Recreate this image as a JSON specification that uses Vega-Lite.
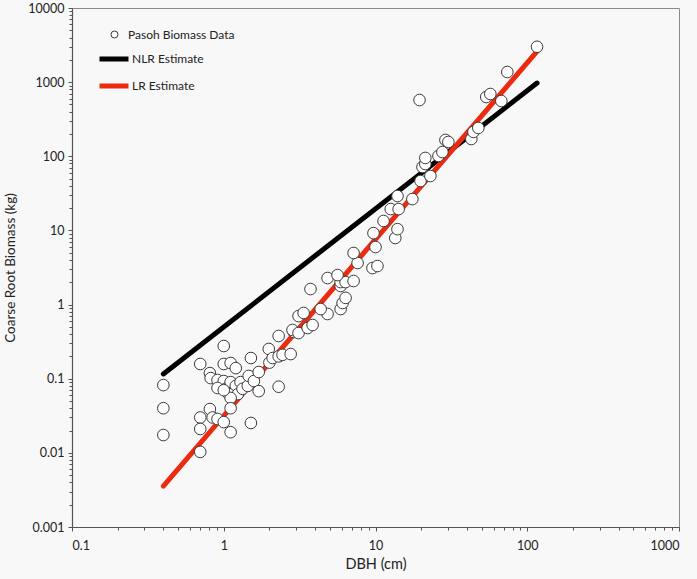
{
  "$schema": "https://vega.github.io/schema/vega-lite/v6.json",
  "width": 607,
  "height": 519,
  "autosize": "none",
  "padding": {"left": 72, "top": 8, "right": 18, "bottom": 52},
  "background": "#f8f8f8",
  "config": {
    "font": "Lato",
    "view": {"stroke": "#8a8a8a", "strokeWidth": 1, "fill": "#f8f8f8"},
    "axis": {
      "labelFont": "Lato", "labelFontSize": 12.5, "labelColor": "#222",
      "titleFont": "Lato", "titleFontSize": 14, "titleFontWeight": "normal", "titleColor": "#222",
      "domainColor": "#555", "domainWidth": 1.2, "tickColor": "#555", "tickWidth": 1,
      "grid": false, "labelOverlap": false
    },
    "legend": {"labelFont": "Lato", "labelFontSize": 12, "labelColor": "#222", "padding": 0}
  },
  "resolve": {"scale": {"stroke": "independent"}, "legend": {"stroke": "independent"}},
  "datasets": {
    "pts": [
      {"dbh":0.4,"biomass":0.082},{"dbh":0.4,"biomass":0.040},{"dbh":0.4,"biomass":0.0174},
      {"dbh":0.70,"biomass":0.158},{"dbh":0.81,"biomass":0.119},{"dbh":0.82,"biomass":0.102},{"dbh":1.0,"biomass":0.276},{"dbh":1.0,"biomass":0.158},{"dbh":1.11,"biomass":0.163},{"dbh":1.2,"biomass":0.139},
      {"dbh":0.91,"biomass":0.096},{"dbh":1.0,"biomass":0.093},{"dbh":0.91,"biomass":0.075},{"dbh":1.03,"biomass":0.073},{"dbh":1.11,"biomass":0.090},{"dbh":1.2,"biomass":0.080},{"dbh":1.29,"biomass":0.090},{"dbh":1.08,"biomass":0.062},{"dbh":1.24,"biomass":0.062},{"dbh":1.33,"biomass":0.073},{"dbh":1.44,"biomass":0.080},{"dbh":1.51,"biomass":0.190},{"dbh":1.46,"biomass":0.109},{"dbh":1.58,"biomass":0.093},{"dbh":1.70,"biomass":0.123},{"dbh":1.70,"biomass":0.068},
      {"dbh":1.11,"biomass":0.055},{"dbh":1.0,"biomass":0.070},
      {"dbh":1.11,"biomass":0.040},{"dbh":0.70,"biomass":0.030},{"dbh":0.81,"biomass":0.039},{"dbh":0.845,"biomass":0.030},{"dbh":0.91,"biomass":0.0286},{"dbh":1.0,"biomass":0.026},{"dbh":0.70,"biomass":0.021},{"dbh":1.11,"biomass":0.019},{"dbh":0.70,"biomass":0.0103},{"dbh":1.51,"biomass":0.0253},
      {"dbh":1.98,"biomass":0.252},{"dbh":2.0,"biomass":0.165},{"dbh":2.1,"biomass":0.19},{"dbh":2.3,"biomass":0.2},{"dbh":2.44,"biomass":0.21},{"dbh":2.76,"biomass":0.215},{"dbh":2.3,"biomass":0.377},{"dbh":2.3,"biomass":0.078},{"dbh":2.89,"biomass":0.427},{"dbh":2.84,"biomass":0.454},{"dbh":3.11,"biomass":0.413},{"dbh":3.57,"biomass":0.483},{"dbh":3.85,"biomass":0.53},{"dbh":3.11,"biomass":0.70},{"dbh":3.36,"biomass":0.77},{"dbh":4.83,"biomass":0.746},{"dbh":4.35,"biomass":0.87},{"dbh":5.89,"biomass":0.87},{"dbh":6.07,"biomass":1.05},{"dbh":6.35,"biomass":1.23},{"dbh":5.89,"biomass":1.78},{"dbh":3.73,"biomass":1.62},{"dbh":5.89,"biomass":2.01},{"dbh":6.35,"biomass":2.01},{"dbh":7.17,"biomass":2.08},{"dbh":4.83,"biomass":2.28},{"dbh":5.62,"biomass":2.50},
      {"dbh":9.55,"biomass":3.11},{"dbh":10.3,"biomass":3.31},{"dbh":7.62,"biomass":3.64},{"dbh":7.17,"biomass":4.96},{"dbh":10.0,"biomass":5.97},{"dbh":9.70,"biomass":9.2},
      {"dbh":13.5,"biomass":7.9},{"dbh":13.96,"biomass":10.4},{"dbh":11.3,"biomass":13.4},{"dbh":12.6,"biomass":19.4},{"dbh":14.2,"biomass":19.4},{"dbh":13.96,"biomass":29.1},{"dbh":17.5,"biomass":26.5},{"dbh":19.8,"biomass":46.4},{"dbh":23.0,"biomass":54.2},{"dbh":20.4,"biomass":71.7},{"dbh":21.3,"biomass":78.7},{"dbh":21.3,"biomass":95},{"dbh":26.0,"biomass":101},{"dbh":27.6,"biomass":114},{"dbh":28.9,"biomass":166},{"dbh":30.2,"biomass":156},
      {"dbh":42.8,"biomass":171},{"dbh":44.2,"biomass":213},{"dbh":47.6,"biomass":241},{"dbh":53.7,"biomass":630},{"dbh":57.1,"biomass":692},{"dbh":67.5,"biomass":557},{"dbh":73.9,"biomass":1370},{"dbh":116,"biomass":3000},{"dbh":19.5,"biomass":574}
    ],
    "fits": [
      {"series":"NLR Estimate","dbh":0.4,"biomass":0.116},
      {"series":"NLR Estimate","dbh":116,"biomass":973},
      {"series":"LR Estimate","dbh":0.4,"biomass":0.00357},
      {"series":"LR Estimate","dbh":116,"biomass":2600}
    ]
  },
  "layer": [
    {
      "data": {"name": "fits"},
      "mark": {"type": "line", "strokeWidth": 5, "strokeCap": "round"},
      "encoding": {
        "x": {"field": "dbh", "type": "quantitative"},
        "y": {"field": "biomass", "type": "quantitative"},
        "stroke": {
          "field": "series", "type": "nominal", "title": null,
          "scale": {"domain": ["NLR Estimate", "LR Estimate"], "range": ["#000000", "#ec2a10"]},
          "legend": {
            "orient": "none", "legendX": 25, "legendY": 34,
            "symbolSize": 841, "symbolType": "stroke", "symbolStrokeWidth": 5, "labelOffset": 1, "rowPadding": 0
          }
        }
      }
    },
    {
      "data": {"name": "pts"},
      "transform": [{"calculate": "'Pasoh Biomass Data'", "as": "series"}],
      "mark": {"type": "point", "filled": false, "fill": "white", "fillOpacity": 1, "opacity": 1, "strokeWidth": 1, "size": 135},
      "encoding": {
        "x": {
          "field": "dbh", "type": "quantitative", "title": "DBH (cm)",
          "scale": {"type": "log", "domain": [0.1, 1000], "nice": false},
          "axis": {
            "values": [0.1,0.2,0.3,0.4,0.5,0.6,0.7,0.8,0.9,1,2,3,4,5,6,7,8,9,10,20,30,40,50,60,70,80,90,100,200,300,400,500,600,700,800,900,1000],
            "labelExpr": "abs(log(datum.value)/LN10 - round(log(datum.value)/LN10)) < 0.000001 ? format(datum.value, '~g') : ''",
            "tickSize": {"condition": {"test": "abs(log(datum.value)/LN10 - round(log(datum.value)/LN10)) < 0.000001", "value": 4}, "value": 3},
            "labelPadding": 8, "titlePadding": 6, "titleFontSize": 14.5
          }
        },
        "y": {
          "field": "biomass", "type": "quantitative", "title": "Coarse Root Biomass (kg)",
          "scale": {"type": "log", "domain": [0.001, 10000], "nice": false},
          "axis": {
            "values": [0.001,0.002,0.003,0.004,0.005,0.006,0.007,0.008,0.009,0.01,0.02,0.03,0.04,0.05,0.06,0.07,0.08,0.09,0.1,0.2,0.3,0.4,0.5,0.6,0.7,0.8,0.9,1,2,3,4,5,6,7,8,9,10,20,30,40,50,60,70,80,90,100,200,300,400,500,600,700,800,900,1000,2000,3000,4000,5000,6000,7000,8000,9000,10000],
            "labelExpr": "abs(log(datum.value)/LN10 - round(log(datum.value)/LN10)) < 0.000001 ? format(datum.value, '~g') : ''",
            "tickSize": {"condition": {"test": "abs(log(datum.value)/LN10 - round(log(datum.value)/LN10)) < 0.000001", "value": 4}, "value": 3},
            "labelPadding": 4, "titlePadding": 10, "titleFontSize": 13.5
          }
        },
        "stroke": {
          "field": "series", "type": "nominal", "title": null,
          "scale": {"domain": ["Pasoh Biomass Data"], "range": ["#3a3a3a"]},
          "legend": {
            "orient": "none", "legendX": 36.5, "legendY": 20.5,
            "symbolType": "circle", "symbolSize": 48, "symbolStrokeWidth": 1, "symbolFillColor": "white",
            "labelOffset": 7.5
          }
        }
      }
    }
  ]
}
